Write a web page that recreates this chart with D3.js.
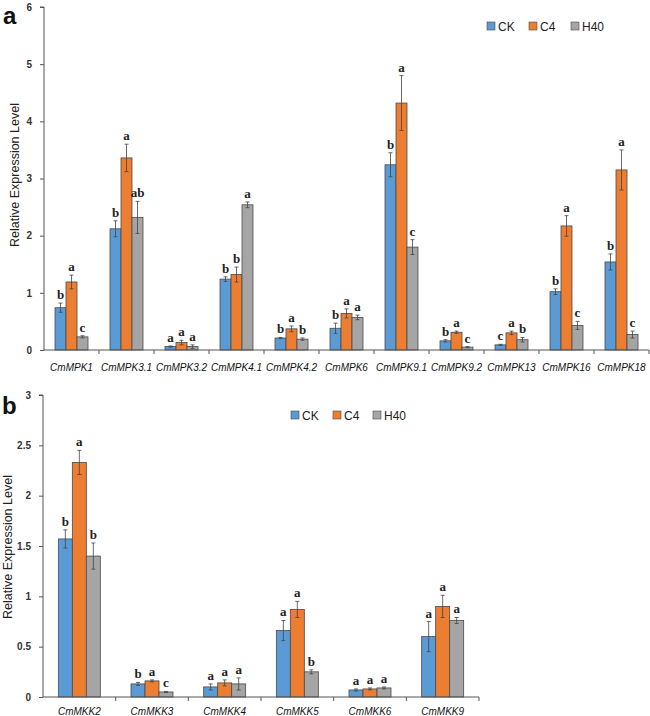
<!DOCTYPE html>
<html><head><meta charset="utf-8">
<script src="https://cdn.jsdelivr.net/npm/d3@7/dist/d3.min.js"></script>
<style>body{margin:0;background:#fff}svg{display:block}</style>
</head><body>
<svg id="chart" width="650" height="716"></svg>
<script>
const series = ["CK", "C4", "H40"];
const colors = ["#5B9BD5", "#ED7D31", "#A5A5A5"];

// Panel a
const catsA = ["CmMPK1","CmMPK3.1","CmMPK3.2","CmMPK4.1","CmMPK4.2","CmMPK6","CmMPK9.1","CmMPK9.2","CmMPK13","CmMPK16","CmMPK18"];
const ckA  = [0.74, 2.12, 0.06, 1.24, 0.21, 0.38, 3.24, 0.16, 0.09, 1.02, 1.54];
const c4A  = [1.19, 3.36, 0.13, 1.32, 0.37, 0.64, 4.32, 0.31, 0.30, 2.17, 3.15];
const h40A = [0.23, 2.32, 0.06, 2.54, 0.19, 0.57, 1.80, 0.05, 0.18, 0.43, 0.27];
const ckAErr  = [0.08, 0.14, 0.01, 0.04, 0.01, 0.09, 0.21, 0.02, 0.01, 0.05, 0.14];
const c4AErr  = [0.12, 0.24, 0.04, 0.13, 0.05, 0.08, 0.48, 0.02, 0.03, 0.18, 0.35];
const h40AErr = [0.02, 0.28, 0.03, 0.05, 0.02, 0.04, 0.13, 0.01, 0.04, 0.07, 0.06];
const ckASig  = ["b","b","a","b","b","b","b","b","c","b","b"];
const c4ASig  = ["a","a","a","b","a","a","a","a","a","a","a"];
const h40ASig = ["c","ab","a","a","b","a","c","c","b","c","c"];
const ticksA = [0,1,2,3,4,5,6];

// Panel b
const catsB = ["CmMKK2","CmMKK3","CmMKK4","CmMKK5","CmMKK6","CmMKK9"];
const ckB  = [1.57, 0.13, 0.10, 0.66, 0.07, 0.60];
const c4B  = [2.33, 0.16, 0.14, 0.87, 0.08, 0.90];
const h40B = [1.40, 0.05, 0.13, 0.25, 0.09, 0.76];
const ckBErr  = [0.09, 0.015, 0.03, 0.10, 0.01, 0.15];
const c4BErr  = [0.12, 0.01, 0.03, 0.08, 0.01, 0.11];
const h40BErr = [0.13, 0.005, 0.06, 0.02, 0.01, 0.03];
const ckBSig  = ["b","b","a","a","a","a"];
const c4BSig  = ["a","a","a","a","a","a"];
const h40BSig = ["b","c","a","b","a","a"];
const ticksB = [0,0.5,1,1.5,2,2.5,3];

const svg = d3.select("#chart");

function panel(cfg) {
  const g = svg.append("g");
  const x = d3.scaleBand().domain(cfg.cats).range([cfg.x0, cfg.x1]);
  const inner = d3.scaleBand().domain(series).range([0, cfg.groupW]);
  const y = d3.scaleLinear().domain(cfg.ydom).range([cfg.y0, cfg.yTop]);
  const vals = [cfg.ck, cfg.c4, cfg.h40];
  const errs = [cfg.ckErr, cfg.c4Err, cfg.h40Err];
  const sigs = [cfg.ckSig, cfg.c4Sig, cfg.h40Sig];

  series.forEach((s, si) => {
    const data = cfg.cats.map((c, i) => ({c, v: vals[si][i], e: errs[si][i], s: sigs[si][i]}));
    const bx = d => x(d.c) + (x.bandwidth() - cfg.groupW) / 2 + inner(s);
    g.selectAll(null).data(data).enter().append("rect")
      .attr("x", bx).attr("y", d => y(d.v))
      .attr("width", inner.bandwidth()).attr("height", d => y(0) - y(d.v))
      .attr("fill", colors[si]).attr("stroke", "#4a4a4a").attr("stroke-width", 0.8);
    const cx = d => bx(d) + inner.bandwidth() / 2;
    const eg = g.selectAll(null).data(data).enter().append("g").attr("stroke", "#444").attr("stroke-width", 0.8);
    eg.append("line").attr("x1", cx).attr("x2", cx).attr("y1", d => y(d.v + d.e)).attr("y2", d => y(d.v - d.e));
    eg.append("line").attr("x1", d => cx(d) - 2).attr("x2", d => cx(d) + 2).attr("y1", d => y(d.v + d.e)).attr("y2", d => y(d.v + d.e));
    eg.append("line").attr("x1", d => cx(d) - 2).attr("x2", d => cx(d) + 2).attr("y1", d => y(d.v - d.e)).attr("y2", d => y(d.v - d.e));
    g.selectAll(null).data(data).enter().append("text")
      .attr("x", cx).attr("y", d => y(d.v + d.e) - 4)
      .attr("text-anchor", "middle")
      .attr("font-family", "Liberation Serif, Times New Roman, serif")
      .attr("font-size", 13).attr("font-weight", "bold").attr("fill", "#222")
      .text(d => d.s);
  });

  const ya = d3.axisLeft(y).tickValues(cfg.ticks).tickSize(4).tickFormat(d => d3.format("")(d));
  const yg = g.append("g").attr("transform", `translate(${cfg.x0},0)`).call(ya);
  yg.select(".domain").attr("stroke", "#555").attr("d", `M-4,${cfg.yTop}H0V${cfg.y0}`);
  yg.selectAll(".tick line").attr("stroke", "#555");
  yg.selectAll(".tick text").attr("font-family", "Liberation Sans, Arial, sans-serif")
    .attr("font-size", 10).attr("font-weight", "bold").attr("fill", "#333").attr("x", -12);

  const xa = d3.axisBottom(x).tickSize(0).tickFormat("");
  const xg = g.append("g").attr("transform", `translate(0,${cfg.y0})`).call(xa);
  xg.select(".domain").attr("stroke", "#555").attr("d", `M${cfg.x0},0H${cfg.x1}`);
  xg.selectAll(null).data(cfg.cats).enter().append("line")
    .attr("x1", d => x(d) + x.bandwidth()).attr("x2", d => x(d) + x.bandwidth())
    .attr("y1", 0).attr("y2", 4).attr("stroke", "#555");
  g.selectAll(null).data(cfg.cats).enter().append("text")
    .attr("x", d => x(d) + x.bandwidth() / 2).attr("y", cfg.labelY)
    .attr("text-anchor", "middle").attr("font-family", "Liberation Sans, Arial, sans-serif")
    .attr("font-size", 10).attr("font-style", "italic").attr("fill", "#111")
    .text(d => d);

  g.append("text").attr("transform", `translate(${cfg.titleX},${cfg.titleY}) rotate(-90)`)
    .attr("text-anchor", "middle").attr("font-family", "Liberation Sans, Arial, sans-serif")
    .attr("font-size", 12.5).attr("fill", "#222").text("Relative Expression Level");

  g.append("text").attr("x", cfg.letterX).attr("y", cfg.letterY)
    .attr("font-family", "Liberation Sans, Arial, sans-serif").attr("font-size", 24)
    .attr("font-weight", "bold").attr("fill", "#111").text(cfg.letter);

  const lg = g.append("g");
  series.forEach((s, i) => {
    lg.append("rect").attr("x", cfg.legX[i]).attr("y", cfg.legY - 4).attr("width", 8).attr("height", 8)
      .attr("fill", colors[i]).attr("stroke", "#4a4a4a").attr("stroke-width", 0.6);
    lg.append("text").attr("x", cfg.legX[i] + 11).attr("y", cfg.legY + 4.5)
      .attr("font-family", "Liberation Sans, Arial, sans-serif").attr("font-size", 12).attr("fill", "#222").text(s);
  });
}

panel({cats: catsA, ck: ckA, c4: c4A, h40: h40A, ckErr: ckAErr, c4Err: c4AErr, h40Err: h40AErr,
  ckSig: ckASig, c4Sig: c4ASig, h40Sig: h40ASig, ticks: ticksA, ydom: [0, 6],
  x0: 44, x1: 649, y0: 350, yTop: 7, groupW: 33, labelY: 371,
  titleX: 19, titleY: 175, letter: "a", letterX: 3, letterY: 24,
  legX: [487, 529, 571], legY: 26});

panel({cats: catsB, ck: ckB, c4: c4B, h40: h40B, ckErr: ckBErr, c4Err: c4BErr, h40Err: h40BErr,
  ckSig: ckBSig, c4Sig: c4BSig, h40Sig: h40BSig, ticks: ticksB, ydom: [0, 3],
  x0: 43, x1: 479, y0: 697, yTop: 395, groupW: 42, labelY: 715,
  titleX: 12, titleY: 547, letter: "b", letterX: 2, letterY: 414,
  legX: [291, 333, 373], legY: 415});
</script>
</body></html>
